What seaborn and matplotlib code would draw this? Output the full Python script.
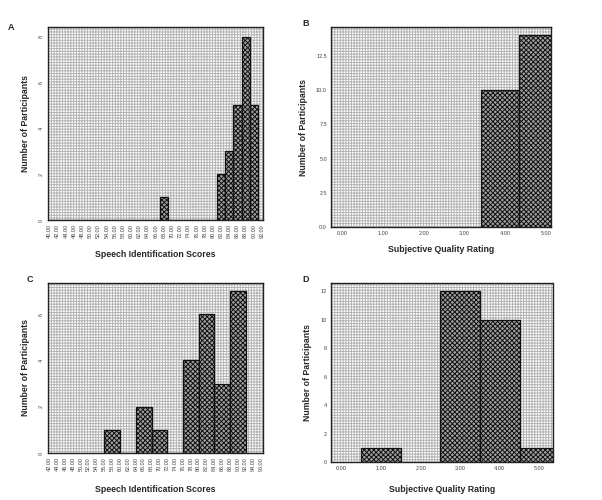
import matplotlib
matplotlib.use("Agg")
import matplotlib.pyplot as plt
from matplotlib.patches import Rectangle
import numpy as np
import pandas as pd
import seaborn as sns

# --- data ---
# panel A: speech identification scores (tick labels + counts)
a_labels = ["40.00", "42.00", "44.00", "46.00", "48.00", "50.00", "52.00", "54.00", "56.00",
            "58.00", "60.00", "62.00", "64.00", "66.00", "68.00", "70.00", "72.00", "74.00",
            "76.00", "78.00", "80.00", "82.00", "84.00", "86.00", "88.00", "90.00", "92.00"]
a_scores = [68, 82, 84, 86, 88, 90]
a_counts = [1, 2, 3, 5, 8, 5]

# panel B: subjective quality rating
b_labels = ["0.00", "1.00", "2.00", "3.00", "4.00", "5.00"]
b_ratings = [4, 5]
b_counts = [10, 14]
b_edges = [3.4, 4.33, 5.26]
b_yticks = ["0.0", "2.5", "5.0", "7.5", "10.0", "12.5"]

# panel C: speech identification scores (bins span two ticks)
c_labels = ["42.00", "44.00", "46.00", "48.00", "50.00", "52.00", "54.00", "56.00", "58.00",
            "60.00", "62.00", "64.00", "66.00", "68.00", "70.00", "72.00", "74.00", "76.00",
            "78.00", "80.00", "82.00", "84.00", "86.00", "88.00", "90.00", "92.00", "94.00", "96.00"]
c_scores = [58, 62, 66, 70, 74, 78, 82, 86, 90]
c_counts = [1, 0, 2, 1, 0, 4, 6, 3, 7]

# panel D: subjective quality rating
d_labels = ["0.00", "1.00", "2.00", "3.00", "4.00", "5.00"]
d_ratings = [1, 3, 4, 5]
d_counts = [1, 12, 10, 1]

sns.set_style("white")
plt.rcParams["font.family"] = ["Liberation Sans", "DejaVu Sans"]
plt.rcParams["hatch.linewidth"] = 0.7

fig = plt.figure(figsize=(6.02, 5.0), dpi=100)
axA = fig.add_axes([0.0797, 0.560, 0.357, 0.386])
axB = fig.add_axes([0.550, 0.546, 0.365, 0.400])
axC = fig.add_axes([0.0797, 0.094, 0.357, 0.340])
axD = fig.add_axes([0.550, 0.076, 0.369, 0.358])


def style(ax):
    # dotted grey backdrop + dotted frame like the SPSS output
    bars = list(ax.patches)
    ax.add_patch(Rectangle((0, 0), 1, 1, transform=ax.transAxes, facecolor="white",
                           edgecolor="#b4b4b4", linewidth=0, hatch="++++++", zorder=0))
    for p in bars:
        p.set_hatch("xxxxxxx")
        p.set_edgecolor("#111111")
        p.set_facecolor("#a0a0a0")
        p.set_linewidth(0.9)
        p.set_zorder(2)
    for sp in ax.spines.values():
        sp.set_linestyle((0, (1, 1)))
        sp.set_linewidth(1.0)
        sp.set_color("#222222")
        sp.set_visible(True)
    ax.tick_params(length=2, width=0.6, labelsize=4, colors="#444444", pad=1)
    ax.set_ylabel("Number of Participants", fontsize=6.3, fontweight="bold", labelpad=6)


def hist(ax, x, w, bins):
    df = pd.DataFrame({"x": x, "w": w})
    sns.histplot(data=df, x="x", weights="w", bins=[float(b) for b in bins],
                 ax=ax, stat="count", alpha=1)


# A
hist(axA, a_scores, a_counts, np.arange(39, 95, 2))
style(axA)
axA.set_xlim(39.6, 92.2)
axA.set_ylim(0, 8.42)
axA.set_xticks([float(s) for s in a_labels])
axA.set_xticklabels(a_labels, rotation=90)
axA.set_yticks([0, 2, 4, 6, 8])
axA.set_yticklabels(["0", "2", "4", "6", "8"], rotation=90, va="center")
axA.set_xlabel("Speech Identification Scores", fontsize=6.3, fontweight="bold", labelpad=8)

# B
hist(axB, b_ratings, b_counts, b_edges)
style(axB)
axB.set_xlim(-0.27, 5.11)
axB.set_ylim(0, 14.6)
axB.set_xticks(range(len(b_labels)))
axB.set_xticklabels(b_labels)
axB.set_yticks([0, 2.5, 5, 7.5, 10, 12.5])
axB.set_yticklabels(b_yticks)
axB.set_xlabel("Subjective Quality Rating", fontsize=6.3, fontweight="bold", labelpad=6)

# C
hist(axC, c_scores, c_counts, np.arange(56, 96, 4))
style(axC)
axC.set_xlim(41.6, 96.4)
axC.set_ylim(0, 7.34)
axC.set_xticks([float(s) for s in c_labels])
axC.set_xticklabels(c_labels, rotation=90)
axC.set_yticks([0, 2, 4, 6])
axC.set_yticklabels(["0", "2", "4", "6"], rotation=90, va="center")
axC.set_xlabel("Speech Identification Scores", fontsize=6.3, fontweight="bold", labelpad=10)

# D
hist(axD, d_ratings, d_counts, np.arange(0.5, 6, 1))
style(axD)
axD.set_xlim(-0.26, 5.35)
axD.set_ylim(0, 12.58)
axD.set_xticks(range(len(d_labels)))
axD.set_xticklabels(d_labels)
axD.set_yticks(range(0, 13, 2))
axD.set_xlabel("Subjective Quality Rating", fontsize=6.3, fontweight="bold", labelpad=10)

for txt, x, y in [("A", 8, 28), ("B", 302, 24), ("C", 27, 280), ("D", 302, 280)]:
    fig.text(x / 602, 1 - y / 500, txt, fontsize=6.5, fontweight="bold", va="center")

fig.savefig("out.png", dpi=100)
